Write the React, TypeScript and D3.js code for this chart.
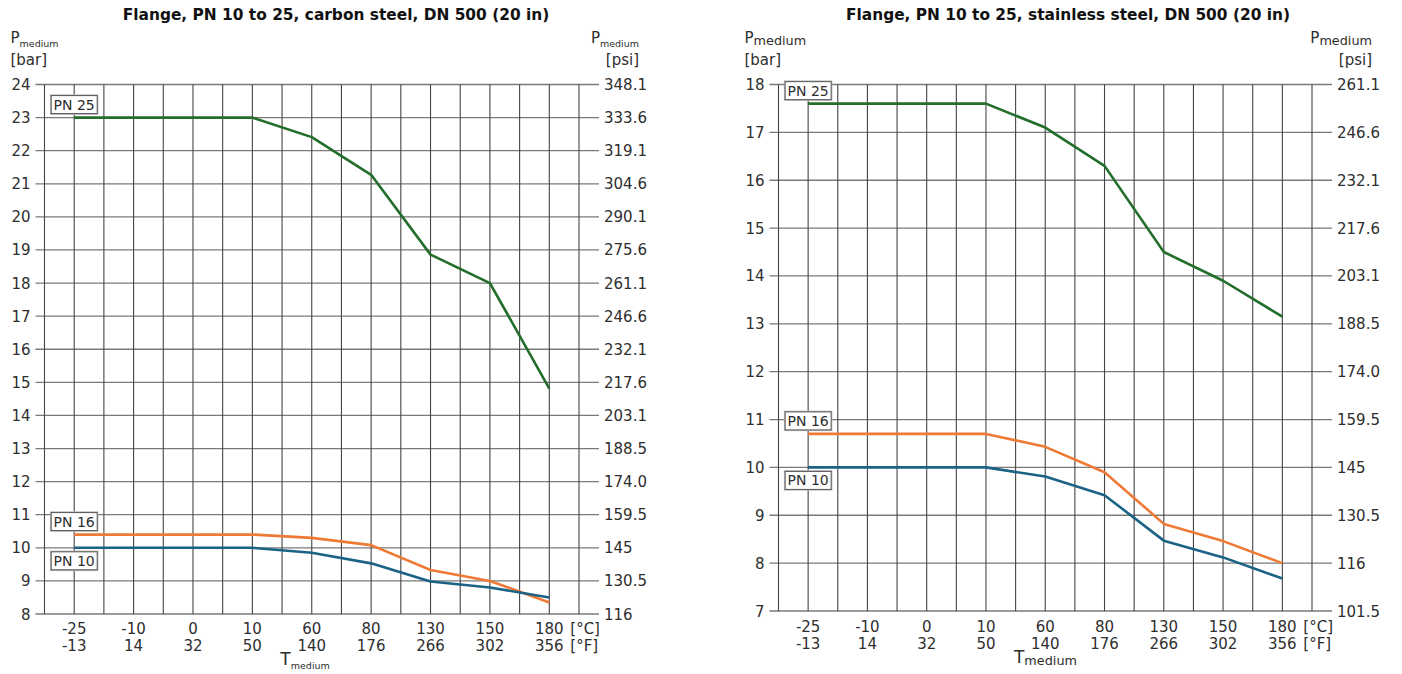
import React from "react";
import * as d3 from "d3";

const CATEGORIES_C = ["-25", "-10", "0", "10", "60", "80", "130", "150", "180"];
const CATEGORIES_F = ["-13", "14", "32", "50", "140", "176", "266", "302", "356"];

const CS_PN25 = [23, 23, 23, 23, 22.41, 21.27, 18.86, 18.0, 14.81];
const CS_PN16 = [10.4, 10.4, 10.4, 10.4, 10.3, 10.08, 9.33, 9.0, 8.35];
const CS_PN10 = [10, 10, 10, 10, 9.85, 9.53, 8.98, 8.8, 8.5];

const SS_PN25 = [17.6, 17.6, 17.6, 17.6, 17.1, 16.3, 14.5, 13.9, 13.15];
const SS_PN16 = [10.7, 10.7, 10.7, 10.7, 10.43, 9.9, 8.82, 8.46, 8.0];
const SS_PN10 = [10, 10, 10, 10, 9.81, 9.42, 8.47, 8.12, 7.68];

const CS_BAR_TICKS = [24, 23, 22, 21, 20, 19, 18, 17, 16, 15, 14, 13, 12, 11, 10, 9, 8];
const CS_PSI_TICKS = ["348.1", "333.6", "319.1", "304.6", "290.1", "275.6", "261.1", "246.6", "232.1", "217.6", "203.1", "188.5", "174.0", "159.5", "145", "130.5", "116"];
const SS_BAR_TICKS = [18, 17, 16, 15, 14, 13, 12, 11, 10, 9, 8, 7];
const SS_PSI_TICKS = ["261.1", "246.6", "232.1", "217.6", "203.1", "188.5", "174.0", "159.5", "145", "130.5", "116", "101.5"];

const SERIES_NAMES = ["PN 25", "PN 16", "PN 10"];
const COLORS = ["#236e2b", "#ee7a35", "#1b6285"];

const FONT = "'DejaVu Sans', Verdana, sans-serif";
const TXT = "#2e2e2e";

type Cfg = {
  title: string;
  titleX: number;
  left: number;
  right: number;
  top: number;
  bottom: number;
  barTicks: number[];
  psiTicks: string[];
  series: number[][];
  labelPos: ("above" | "below")[];
  subSize: number;
  subDy: number;
  xLabelY: number;
};

function Chart({ c }: { c: Cfg }) {
  const n = CATEGORIES_C.length;
  const x = d3.scaleLinear().domain([0, 2 * n]).range([c.left, c.right]);
  const yMax = d3.max(c.barTicks)!;
  const yMin = d3.min(c.barTicks)!;
  const y = d3.scaleLinear().domain([yMin, yMax]).range([c.bottom, c.top]);
  const cx = (i: number) => x(2 * i + 1);
  const line = d3
    .line<number>()
    .x((_, i) => cx(i))
    .y((d) => y(d));
  const gridV = d3.range(0, 2 * n + 1);
  const fs = 15;
  return (
    <g fontFamily={FONT} fill={TXT}>
      <text x={c.titleX} y={20} textAnchor="middle" fontWeight="bold" fontSize={15.4} fill="#111">
        {c.title}
      </text>
      {/* axis titles */}
      <text x={c.left - 34} y={43} fontSize={fs}>
        P<tspan fontSize={c.subSize} dy={c.subDy}>medium</tspan>
      </text>
      <text x={c.left - 34} y={65} fontSize={fs}>[bar]</text>
      <text x={c.right + 60} y={43} fontSize={fs} textAnchor="end">
        P<tspan fontSize={c.subSize} dy={c.subDy}>medium</tspan>
      </text>
      <text x={c.right + 60} y={65} fontSize={fs} textAnchor="end">[psi]</text>
      {/* horizontal grid */}
      {c.barTicks.map((t, i) => (
        <g key={"h" + t}>
          <line x1={c.left - 9} x2={c.right + 20} y1={y(t)} y2={y(t)} stroke="#7a7a7a" strokeWidth={1.3} />
          <text x={c.left - 14} y={y(t) + 5.5} textAnchor="end" fontSize={fs}>
            {t}
          </text>
          <text x={c.right + 25} y={y(t) + 5.5} fontSize={fs}>
            {c.psiTicks[i]}
          </text>
        </g>
      ))}
      {/* vertical grid */}
      {gridV.map((g) => (
        <line key={"v" + g} x1={x(g)} x2={x(g)} y1={c.top} y2={c.bottom} stroke="#444" strokeWidth={1.1} />
      ))}
      {/* x labels */}
      {CATEGORIES_C.map((lab, i) => (
        <g key={"xl" + i}>
          <text x={cx(i)} y={c.xLabelY} textAnchor="middle" fontSize={fs}>
            {lab}
          </text>
          <text x={cx(i)} y={c.xLabelY + 16.5} textAnchor="middle" fontSize={fs}>
            {CATEGORIES_F[i]}
          </text>
        </g>
      ))}
      <text x={cx(n - 1) + 21} y={c.xLabelY} fontSize={fs}>[°C]</text>
      <text x={cx(n - 1) + 21} y={c.xLabelY + 16.5} fontSize={fs}>[°F]</text>
      <text x={cx(3) + 28} y={c.xLabelY + 31} fontSize={17}>
        T<tspan fontSize={c.subSize} dy={c.subDy}>medium</tspan>
      </text>
      {/* series */}
      {c.series.map((s, k) => (
        <path key={"s" + k} d={line(s)!} fill="none" stroke={COLORS[k]} strokeWidth={2.6} strokeLinejoin="round" />
      ))}
      {/* labels */}
      {c.series.map((s, k) => {
        const y0 = y(s[0]);
        const h = 18;
        const w = 46;
        const by = c.labelPos[k] === "above" ? y0 - 4 - h : y0 + 4;
        const bx = cx(0) - 23;
        return (
          <g key={"lb" + k}>
            <rect x={bx} y={by} width={w} height={h} fill="#fff" stroke="#bbb" strokeWidth={2.5} />
            <rect x={bx} y={by} width={w} height={h} fill="#fff" stroke="#555" strokeWidth={1} />
            <text x={bx + w / 2} y={by + 14} fontSize={14} textAnchor="middle">
              {SERIES_NAMES[k]}
            </text>
          </g>
        );
      })}
    </g>
  );
}

export default function App() {
  const left: Cfg = {
    title: "Flange, PN 10 to 25, carbon steel, DN 500 (20 in)",
    titleX: 336,
    left: 44.5,
    right: 579,
    top: 84.5,
    bottom: 614,
    barTicks: CS_BAR_TICKS,
    psiTicks: CS_PSI_TICKS,
    series: [CS_PN25, CS_PN16, CS_PN10],
    labelPos: ["above", "above", "below"],
    subSize: 9.5,
    subDy: 3.5,
    xLabelY: 634,
  };
  const right: Cfg = {
    title: "Flange, PN 10 to 25, stainless steel, DN 500 (20 in)",
    titleX: 1068,
    left: 778.5,
    right: 1312,
    top: 84.5,
    bottom: 611,
    barTicks: SS_BAR_TICKS,
    psiTicks: SS_PSI_TICKS,
    series: [SS_PN25, SS_PN16, SS_PN10],
    labelPos: ["above", "above", "below"],
    subSize: 12.8,
    subDy: 2,
    xLabelY: 632,
  };
  return (
    <svg width={1402} height={674} style={{ position: "absolute", left: 0, top: 0, background: "#fff" }}>
      <rect width={1402} height={674} fill="#fff" />
      <Chart c={left} />
      <Chart c={right} />
    </svg>
  );
}
